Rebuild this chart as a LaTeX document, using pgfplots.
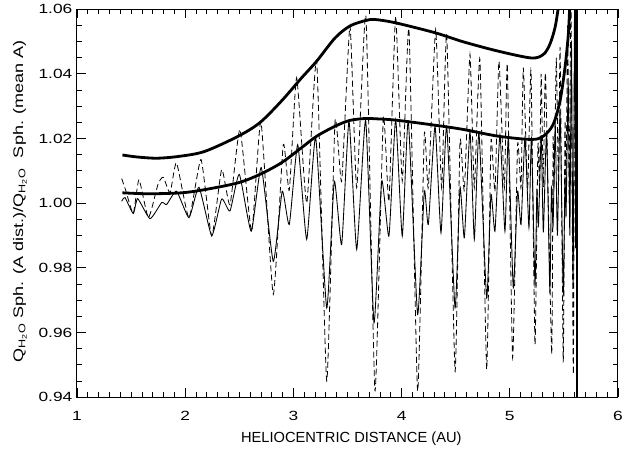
\documentclass[border=0pt]{standalone}
\usepackage{pgfplots}
\pgfplotsset{compat=1.18}
\usepackage{pgfplotstable}
\usepackage{fontspec}
\setmainfont{Liberation Sans}
\newfontfamily\idlfont[FakeStretch=1.3]{Liberation Sans}

% upper and lower envelopes (thick)
\pgfplotstableread{
x y
1.42 1.0149
1.55 1.0143
1.74 1.0139
1.95 1.0145
2.18 1.0160
2.49 1.0207
2.69 1.0249
2.89 1.0316
3.077 1.0388
3.215 1.0439
3.385 1.0511
3.523 1.0548
3.67 1.0565
3.754 1.0568
3.94 1.0558
4.31 1.0527
4.57 1.0499
4.894 1.0470
5.20 1.0449
5.31 1.0460
5.37 1.0491
5.418 1.0543
5.448 1.0604
5.47 1.0660
}\upperenv
\pgfplotstableread{
x y
1.42 1.0032
1.66 1.0029
1.967 1.0032
2.183 1.0042
2.49 1.0063
2.69 1.0089
2.89 1.0125
3.077 1.0172
3.215 1.0207
3.385 1.0238
3.523 1.0256
3.67 1.0262
3.754 1.0261
3.94 1.0257
4.31 1.0241
4.57 1.0228
4.894 1.0207
5.20 1.0197
5.31 1.0207
5.40 1.0243
5.464 1.0316
5.51 1.0419
5.541 1.0522
5.556 1.0625
5.565 1.0680
}\lowerenv
% thin solid
\pgfplotstableread{
x y
1.413 1.0006
1.444 1.0017
1.52 0.9968
1.561 1.0014
1.675 0.9952
1.783 1.0002
1.829 0.9996
1.92 1.0037
2.035 0.9955
2.127 1.0049
2.245 0.9900
2.337 1.0013
2.414 0.9976
2.500 1.0089
2.610 0.9913
2.703 1.0110
2.814 0.9820
2.897 1.0037
2.962 0.9934
3.040 1.0181
3.123 0.9888
3.206 1.0203
3.308 0.9676
3.378 1.0068
3.446 0.9872
3.514 1.0254
3.585 0.9857
3.668 1.0256
3.745 0.9630
3.816 1.0068
3.883 0.9898
3.945 1.0259
4.006 0.9898
4.062 1.0254
4.148 0.9656
4.21 1.0037
4.247 0.9934
4.309 1.0238
4.364 0.9908
4.417 1.0238
4.494 0.9676
4.54 1.0048
4.58 0.9893
4.632 1.0222
4.672 0.9888
4.715 1.0217
4.786 0.9707
4.826 1.0027
4.863 0.9913
4.909 1.0212
4.955 0.9913
4.986 1.0202
5.032 0.9738
5.072 1.0037
5.104 0.9934
5.14 1.0202
5.177 0.9924
5.20 1.0202
5.233 0.9745
5.25 1.0040
5.265 0.9930
5.29 1.0210
5.31 0.9910
5.34 1.0220
5.37 0.9728
5.385 1.0050
5.40 0.9930
5.42 1.0240
5.44 0.9900
5.465 1.0280
5.494 0.9718
5.51 1.0080
5.52 0.9960
5.54 1.0370
5.555 0.9900
5.57 1.0500
5.585 0.9750
5.60 1.0700
5.61 0.9860
}\solidcurve
% dashed
\pgfplotstableread{
x y
1.413 1.0076
1.45 1.0040
1.52 0.9968
1.573 1.0073
1.66 0.9955
1.75 1.0060
1.798 1.0080
1.86 1.0032
1.92 1.0125
2.035 0.9955
2.146 1.0135
2.245 0.9898
2.337 1.0104
2.414 0.9995
2.506 1.0228
2.614 0.9913
2.70 1.0252
2.814 0.9718
2.906 1.0181
2.962 1.0040
3.03 1.0388
3.123 1.0000
3.215 1.0439
3.308 0.9450
3.385 1.0254
3.446 1.0068
3.523 1.0548
3.585 1.0048
3.67 1.0578
3.754 0.9419
3.831 1.0264
3.883 1.0006
3.945 1.0578
4.006 1.0068
4.068 1.0537
4.148 0.9419
4.21 1.0213
4.247 1.0048
4.315 1.0537
4.37 1.0048
4.417 1.0521
4.494 0.9480
4.54 1.0192
4.58 1.0040
4.632 1.0460
4.672 1.0048
4.724 1.0444
4.786 0.9486
4.826 1.0192
4.863 1.0037
4.90 1.0439
4.95 1.0048
4.977 1.0429
5.026 0.9522
5.072 1.0181
5.104 1.0048
5.125 1.0419
5.165 1.0048
5.196 1.0408
5.233 0.9563
5.26 1.0180
5.275 1.0050
5.29 1.0400
5.31 1.0050
5.33 1.0400
5.387 0.9533
5.40 1.0200
5.41 1.0050
5.43 1.0450
5.45 1.0050
5.465 1.0480
5.494 0.9511
5.51 1.0250
5.52 1.0050
5.535 1.0550
5.55 1.0000
5.565 1.0650
5.587 0.9470
5.60 1.0700
}\dashcurve

\begin{document}
\begin{tikzpicture}
\begin{axis}[
  scale only axis, width=405.75pt, height=291pt,
  xmin=1, xmax=6, ymin=0.94, ymax=1.06,
  xtick={1,2,3,4,5,6},
  ytick={0.94,0.96,0.98,1.00,1.02,1.04,1.06},
  minor x tick num=9, minor y tick num=3,
  tick align=inside,
  major tick length=7pt, minor tick length=3.5pt,
  axis line style={line width=0.75pt},
  every tick/.style={black, line width=0.6pt},
  /pgf/number format/assume math mode=true,
  xticklabel style={font=\idlfont\fontsize{10}{11}\selectfont, anchor=center, yshift=-13.9pt},
  yticklabel style={font=\idlfont\fontsize{10}{11}\selectfont,
    /pgf/number format/fixed, /pgf/number format/fixed zerofill,
    /pgf/number format/precision=2},
  xlabel={HELIOCENTRIC DISTANCE (AU)},
  xlabel style={font=\fontsize{11}{13}\selectfont, at={(axis description cs:0.507,-0.1082)}, anchor=center},
  ylabel={Q\textsubscript{H\textsubscript{2}O} Sph. (A dist.)/Q\textsubscript{H\textsubscript{2}O}\ \ Sph. (mean A)},
  ylabel style={font=\idlfont\fontsize{10.4}{12}\selectfont, at={(axis description cs:-0.1054,0.505)}, anchor=center},
]
\addplot[black, line width=0.6pt, dash pattern=on 4.5pt off 2.5pt, smooth, tension=0.3] table {\dashcurve};
\addplot[black, line width=0.65pt, smooth, tension=0.3] table {\solidcurve};
\addplot[black, line width=2.1pt, smooth, tension=0.5] table {\upperenv};
\addplot[black, line width=2.1pt, smooth, tension=0.5] table {\lowerenv};
\addplot[black, line width=2pt] coordinates {(5.622,0.94) (5.622,1.06)};
\addplot[black, line width=1.2pt] coordinates {(5.612,0.986) (5.612,1.06)};
\coordinate (bl) at (rel axis cs:0,0);
\coordinate (tr) at (rel axis cs:1,1);
\end{axis}
\path[use as bounding box] ([xshift=-57.75pt,yshift=-36pt]bl) rectangle ([xshift=10.5pt,yshift=6pt]tr);
\end{tikzpicture}
\end{document}
